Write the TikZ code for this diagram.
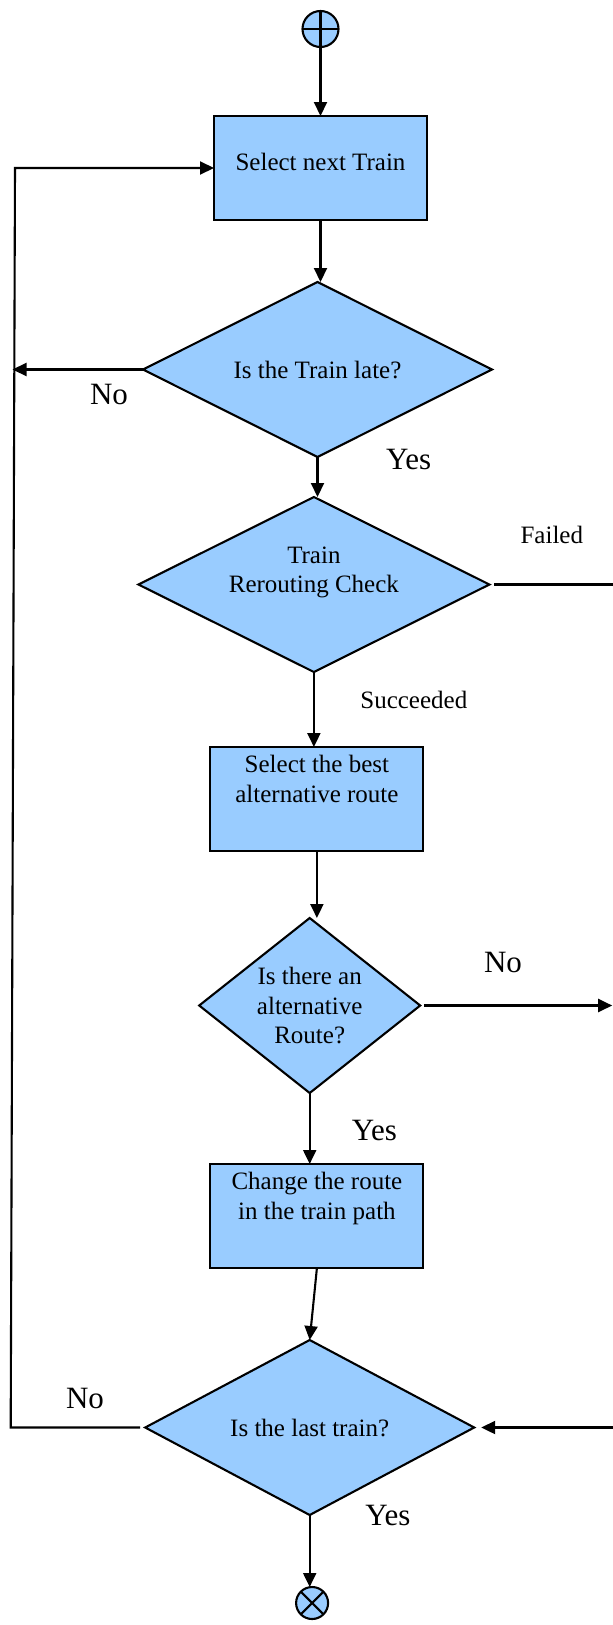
\documentclass[tikz,border=0pt]{standalone}
\usepackage{fontspec}
\setmainfont{Liberation Serif}
\usetikzlibrary{shapes,arrows.meta,positioning}
\definecolor{flowblue}{HTML}{99CCFF}

\begin{document}
\begin{tikzpicture}[
    x=1pt, y=-1pt,
    node distance=60pt,
    process/.style={rectangle, draw, fill=flowblue, line width=2.1pt, outer sep=0pt, inner sep=3pt, align=center, minimum width=213pt, minimum height=104pt, font=\fontsize{25}{30}\selectfont},
    decision/.style={diamond, draw, fill=flowblue, line width=2.1pt, outer sep=0pt, inner sep=0pt, aspect=2, align=center, minimum height=175pt, font=\fontsize{25}{29.5}\selectfont},
    terminal/.style={circle, draw, fill=flowblue, line width=2.1pt, outer sep=0pt, inner sep=0pt, minimum size=36pt},
    line/.style={line width=2.1pt},
    arrow/.style={line width=2.1pt, -{Triangle[length=14pt, width=13pt]}},
    answer/.style={font=\fontsize{31}{31}\selectfont},
    outcome/.style={font=\fontsize{25}{25}\selectfont}
]
    \useasboundingbox (0,0) rectangle (613,1625);

    % Main column
    \node [terminal] (start) at (320.5,29) {};
    \node [process, below=69pt of start] (select_train) {Select next Train\rule[-13pt]{0pt}{13pt}};
    \node [decision, minimum width=349pt, below=62pt of select_train, xshift=-3pt] (train_late) {Is the Train late?};
    \node [decision, minimum width=351pt, below=40pt of train_late, xshift=-3.6pt] (reroute_check) {Train\\Rerouting Check\rule[-30pt]{0pt}{30pt}};
    \node [process, below=75pt of reroute_check, xshift=3pt] (best_route) {Select the best\\alternative route\rule[-41pt]{0pt}{41pt}};
    \node [decision, minimum width=221pt, aspect=1.27, below=67pt of best_route, xshift=-7.2pt] (alt_route) {Is there an\\alternative\\Route?};
    \node [process, below=71pt of alt_route, xshift=7.2pt] (change_route) {Change the route\\in the train path\rule[-41pt]{0pt}{41pt}};
    \node [decision, minimum width=329pt, below=72pt of change_route, xshift=-7.2pt] (last_train) {Is the last train?};
    \node [terminal, minimum size=32pt, below=72pt of last_train, xshift=2.4pt] (stop) {};

    % Terminal symbols
    \draw [line] (start.north) -- (start.south) (start.west) -- (start.east);
    \draw [line] (stop.45) -- (stop.225) (stop.135) -- (stop.315);

    % Free ends
    \coordinate (late_no) at ([xshift=-130.5pt]train_late.west);
    \coordinate (loop_bottom) at ([xshift=-134.5pt]last_train.west);
    \coordinate (loop_top) at ([xshift=-199pt]select_train.west);
    \coordinate (failed_end) at ([xshift=124pt]reroute_check.east);
    \coordinate (alt_no_end) at ([xshift=192pt]alt_route.east);
    \coordinate (last_in) at ([xshift=139pt]last_train.east);

    % Connectors
    \draw [arrow] (start) -- (select_train);
    \draw [arrow] (select_train.south) -- (select_train.south |- train_late.north);
    \draw [arrow] (train_late.south) -- (train_late.south |- reroute_check.north);
    \draw [arrow] (reroute_check.south) -- (reroute_check.south |- best_route.north);
    \draw [arrow] (best_route.south) -- (best_route.south |- alt_route.north);
    \draw [arrow] (alt_route.south) -- (alt_route.south |- change_route.north);
    \draw [arrow] (change_route.south) -- (last_train.north);
    \draw [arrow] (last_train.south) -- (last_train.south |- stop.north);
    \draw [arrow] (train_late.west) -- (late_no);
    \draw [arrow] ([xshift=-5pt]last_train.west) -- (loop_bottom) -- (loop_top) -- (select_train.west);
    \draw [line] ([xshift=5pt]reroute_check.east) -- (failed_end);
    \draw [arrow] ([xshift=4pt]alt_route.east) -- (alt_no_end);
    \draw [arrow] (last_in) -- ([xshift=7pt]last_train.east);

    % Labels
    \node [answer] (no_late) at (109,394) {No};
    \node [answer] (yes_late) at (408.6,459.5) {Yes};
    \node [outcome] (failed_txt) at (551.8,535) {Failed};
    \node [outcome] (succeeded_txt) at (413.8,700) {Succeeded};
    \node [answer] (no_alt) at (503,962.5) {No};
    \node [answer] (yes_alt) at (374.4,1130.5) {Yes};
    \node [answer] (no_last) at (85,1398) {No};
    \node [answer] (yes_last) at (388,1515) {Yes};
\end{tikzpicture}
\end{document}
